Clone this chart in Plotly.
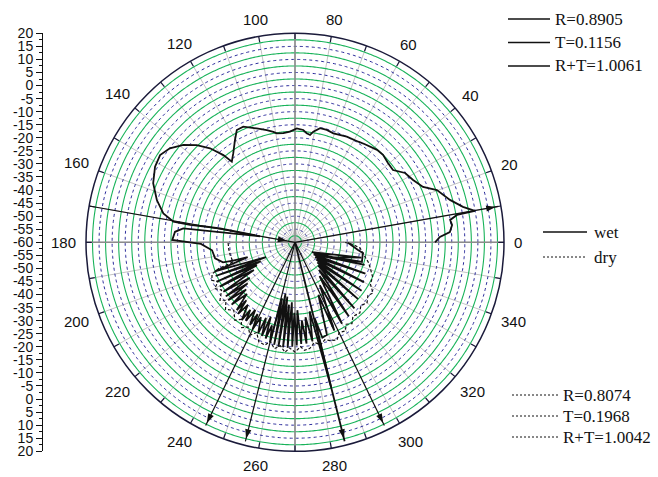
import plotly.graph_objects as go
import numpy as np

W, H = 658, 477
CX, CY, RPX = 295.0, 242.3, 209.0

# ---------------- data ----------------
ang_ticks = list(range(0, 360, 10))
ang_label_vals = list(range(0, 360, 20))

left_vals = list(range(-80, 81, 5))
left_labels = [str(abs(v) - 60) for v in left_vals]

wet_theta = [0, 2.1, 3.8, 6.3, 8.2, 9.6, 9.9, 11.9, 15.3, 20.2, 23.4, 27.8, 32.2, 36.4, 40.5,
             44.8, 48.4, 54.5, 57.8, 63.9, 70.6, 74.2, 77.6, 80.6, 82.0, 83.9, 85.8, 89.1, 92.6,
             96.1, 99.5, 101.1, 104.1, 108.6, 114.1, 117.4, 120.4, 124.7, 128.1, 129.4, 132.1,
             135.3, 138.9, 143.1, 147.1, 151.6, 157.4, 163.0, 167.6, 170.4, 170.6, 170.0, 169.4,
             170.3, 172.9, 175.0, 178.9,
             181, 185.5, 191.3, 195.5, 196.5, 197.5,
             200, 207, 203, 209, 206.7, 211, 210.5, 214, 214.6, 218, 218, 221, 220.9, 224, 224.5,
             227, 229.3, 230, 231.5, 233, 235.6, 236.5, 238, 239.5, 241.4, 242.5, 244, 245.5, 248,
             249, 250.5, 252, 253, 254.5,
             256, 257, 258.5, 259.5, 261, 262, 263.5, 264.5, 266, 267, 268.5, 269.5, 271, 272,
             273.5, 275, 276.5, 278, 280, 282, 284, 284.5, 286,
             289, 294, 294, 300, 300, 306, 306, 311, 312, 315, 318, 318, 324, 321,
             330, 324, 336, 327, 342, 330, 347, 336,
             342.2, 343.6, 351, 353, 359.5]
wet_r = [-6.4, -4.5, -0.6, 0.5, 0.0, 2.9, 9.9, 5.7, 1.5, -2.1, -6.6, -8.9, -10.2, -13.4, -13.2,
         -12.5, -12.7, -13.9, -14.5, -15.0, -15.8, -15.3, -15.3, -17.1, -18.5, -18.0, -16.9, -16.4,
         -17.6, -18.0, -17.7, -16.9, -15.7, -14.0, -11.5, -11.6, -14.6, -18.5, -20.8, -16.8, -11.5,
         -7.1, -3.3, -0.1, 1.5, 0.9, -1.2, -4.7, -8.4, -12.8, -19.3, -25.7, -30.8,
         -46.4, -16.9, -13.9, -13.0,
         -24, -28.1, -28.8, -31.4, -35.3, -41,
         -27.4, -47.5, -27.0, -45, -26.4, -43, -26.6, -41, -26.7, -38, -26.4, -36, -26.2, -34, -26.0,
         -33, -25.8, -31, -25, -30, -23.9, -29, -24.5, -30, -24, -29, -23, -28.5, -22.4,
         -29, -22, -30, -21.5, -27,
         -20.5, -38, -20, -40, -19.5, -39, -19.5, -36, -19.5, -37, -20, -33, -20.5, -34,
         -21, -30, -21, -31, -21.5, -33, -2.7, -30, -22,
         -22.5, -38, -23, -41, -24, -44, -25, -46, -26, -47.5,
         -27.5, -48.5, -28.5, -49.5, -29.5, -50.5, -30.5, -51.5, -32, -52.5, -34, -46,
         -37.9, -33.3, -33.7, -35.7, -39.7]

dry_theta = [180.6, 186, 191, 197.6, 199, 201, 204.6, 207, 210, 213, 217.7, 220, 224, 228, 232.4,
             235, 238, 241, 244.2, 247, 250, 253.8, 256, 259, 262, 264.8, 267, 270, 273, 275, 278,
             281, 284, 287, 289.7, 293.3, 296, 299.6, 302, 305, 308, 312.6, 316, 320, 324, 327,
             331, 336, 341.8, 345, 348, 352, 355, 358, 360.4]
dry_r = [-34.4, -34.5, -34.7, -35.1, -29, -26, -25, -27, -24.5, -26.5, -23.7, -25.5, -23, -25, -22.3,
         -24, -21.5, -23, -20.5, -22.5, -19.5, -19, -21, -18.5, -20, -17.7, -19.5, -18, -20, -18.5, -19,
         -21, -19.5, -21, -20, -19.3, -21.5, -21, -23, -22, -24, -23.3, -25, -24, -25.5, -24.4,
         -27, -27.5, -29.8, -31, -32.5, -34, -35, -38, -41.6]

beam_angles = [10, 244, 256, 284, 296]
beam_ends = [19.0, 18.0, 18.5, 18.5, 18.0]
incident_angle = 170

legend_top = ["R=0.8905", "T=0.1156", "R+T=1.0061"]
legend_bottom = ["R=0.8074", "T=0.1968", "R+T=1.0042"]
legend_mid = ["wet", "dry"]

# ---------------- figure ----------------
fig = go.Figure()

INK = "#111111"
circ = np.linspace(0, 360, 721)
green_r = list(np.arange(-57.5, 20, 5))
blue_r = list(np.arange(-55, 20, 5))
for v in green_r:
    fig.add_trace(go.Scatterpolar(theta=circ, r=[v] * len(circ), mode="lines",
                                  line=dict(color="#19b35a", width=1.1),
                                  hoverinfo="skip", showlegend=False))
for v in blue_r:
    fig.add_trace(go.Scatterpolar(theta=circ, r=[v] * len(circ), mode="lines",
                                  line=dict(color="#2a2a9a", width=1.0, dash="dot"),
                                  hoverinfo="skip", showlegend=False))
for a in (0, 90, 180, 270):
    fig.add_trace(go.Scatterpolar(theta=[a, a], r=[-60, 20], mode="lines",
                                  line=dict(color="#8c8c8c", width=1.6),
                                  hoverinfo="skip", showlegend=False))
# inside angular ticks on the rim
tick_th, tick_r = [], []
for a in ang_ticks:
    tick_th += [a, a, None]
    tick_r += [20, 17.8, None]
fig.add_trace(go.Scatterpolar(theta=tick_th, r=tick_r, mode="lines",
                              line=dict(color="#1a1a3a", width=1.2),
                              hoverinfo="skip", showlegend=False, connectgaps=False))

# data
fig.add_trace(go.Scatterpolar(theta=dry_theta, r=dry_r, mode="lines",
                              line=dict(color=INK, width=1.2, dash="3px,2px"),
                              hoverinfo="skip", showlegend=False))
fig.add_trace(go.Scatterpolar(theta=wet_theta, r=wet_r, mode="lines",
                              line=dict(color=INK, width=1.8),
                              hoverinfo="skip", showlegend=False))

# beams
fig.add_trace(go.Scatterpolar(theta=[incident_angle, incident_angle], r=[20, -60], mode="lines",
                              line=dict(color=INK, width=1.2),
                              hoverinfo="skip", showlegend=False))
fig.add_trace(go.Scatterpolar(theta=[incident_angle], r=[-57], mode="markers",
                              marker=dict(symbol="arrow", size=10, color=INK,
                                          angle=90 - (incident_angle + 180)),
                              hoverinfo="skip", showlegend=False))
for a, e in zip(beam_angles, beam_ends):
    fig.add_trace(go.Scatterpolar(theta=[a, a], r=[-60, e], mode="lines",
                                  line=dict(color=INK, width=1.8 if a == 284 else 1.2),
                                  hoverinfo="skip", showlegend=False))
    fig.add_trace(go.Scatterpolar(theta=[a], r=[e - 1.0], mode="markers",
                                  marker=dict(symbol="arrow", size=10, color=INK,
                                              angle=90 - a),
                                  hoverinfo="skip", showlegend=False))

# dummy trace for left cartesian axis
fig.add_trace(go.Scatter(x=[0.5], y=[0], mode="markers", marker=dict(opacity=0),
                         hoverinfo="skip", showlegend=False, xaxis="x", yaxis="y"))

ydom = [(H - (CY + RPX)) / H, (H - (CY - RPX)) / H]

fig.update_layout(
    width=W, height=H,
    margin=dict(l=0, r=0, t=0, b=0, autoexpand=False),
    paper_bgcolor="white", plot_bgcolor="rgba(0,0,0,0)",
    showlegend=False,
    polar=dict(
        domain=dict(x=[(CX - RPX) / W, (CX + RPX) / W], y=ydom),
        bgcolor="white",
        angularaxis=dict(rotation=0, direction="counterclockwise",
                         tickmode="array", tickvals=ang_ticks, showticklabels=False,
                         ticks="", showline=True, linecolor="#1a1a3a", linewidth=1.5,
                         showgrid=True, gridcolor="#c4c4c4", gridwidth=1),
        radialaxis=dict(range=[-60, 20], showticklabels=False, ticks="", showgrid=False,
                        showline=False),
    ),
    xaxis=dict(domain=[43 / W, 44 / W], range=[0, 1], visible=False),
    yaxis=dict(domain=ydom, range=[-80, 80], anchor="x", side="left", automargin=False,
               tickmode="array", tickvals=left_vals, ticktext=left_labels,
               ticks="outside", ticklen=6, tickcolor=INK,
               showline=True, linecolor=INK, linewidth=1,
               showgrid=False, zeroline=False,
               minor=dict(tickmode="linear", dtick=2.5, tick0=0, ticks="outside", ticklen=3,
                          tickcolor=INK, showgrid=False),
               tickfont=dict(family="Liberation Sans, Arial", size=14, color=INK)),
)

def px(x):
    return x / W

def py(y):
    return (H - y) / H

serif = dict(family="Liberation Serif, Times New Roman", size=17, color=INK)
sans = dict(family="Liberation Sans, Arial", size=15, color=INK)

shapes = []
annotations = []

# angular tick labels placed just outside the rim
for a in ang_label_vals:
    t = str(a)
    w = 8.34 * len(t)
    h = 11.0
    c, s = np.cos(np.radians(a)), np.sin(np.radians(a))
    R = RPX + 10 + abs(c) * w / 2 + abs(s) * h / 2
    annotations.append(dict(text=t, x=px(CX + R * c), y=py(CY - R * s), xref="paper", yref="paper",
                            xanchor="center", yanchor="middle", showarrow=False, font=sans))

for i, t in enumerate(legend_top):
    y = 19 + 23.5 * i
    shapes.append(dict(type="line", xref="paper", yref="paper", x0=px(508), x1=px(550),
                       y0=py(y), y1=py(y), line=dict(color=INK, width=1.3)))
    annotations.append(dict(text=t, x=px(553), y=py(y), xref="paper", yref="paper",
                            xanchor="left", yanchor="middle", showarrow=False, font=serif))
for i, t in enumerate(legend_mid):
    y = 232 + 25 * i
    shapes.append(dict(type="line", xref="paper", yref="paper", x0=px(543), x1=px(587),
                       y0=py(y), y1=py(y),
                       line=dict(color=INK, width=1.3 if i == 0 else 1,
                                 dash="solid" if i == 0 else "2px,2px")))
    annotations.append(dict(text=t, x=px(592), y=py(y), xref="paper", yref="paper",
                            xanchor="left", yanchor="middle", showarrow=False, font=serif))
for i, t in enumerate(legend_bottom):
    y = 395 + 21 * i
    shapes.append(dict(type="line", xref="paper", yref="paper", x0=px(512), x1=px(558),
                       y0=py(y), y1=py(y),
                       line=dict(color=INK, width=1, dash="2px,2px")))
    annotations.append(dict(text=t, x=px(561), y=py(y), xref="paper", yref="paper",
                            xanchor="left", yanchor="middle", showarrow=False, font=serif))

fig.update_layout(shapes=shapes, annotations=annotations)

fig.write_html("out.html", config={"displayModeBar": False},
               post_script="document.body.style.margin='0';document.body.style.overflow='hidden';")
